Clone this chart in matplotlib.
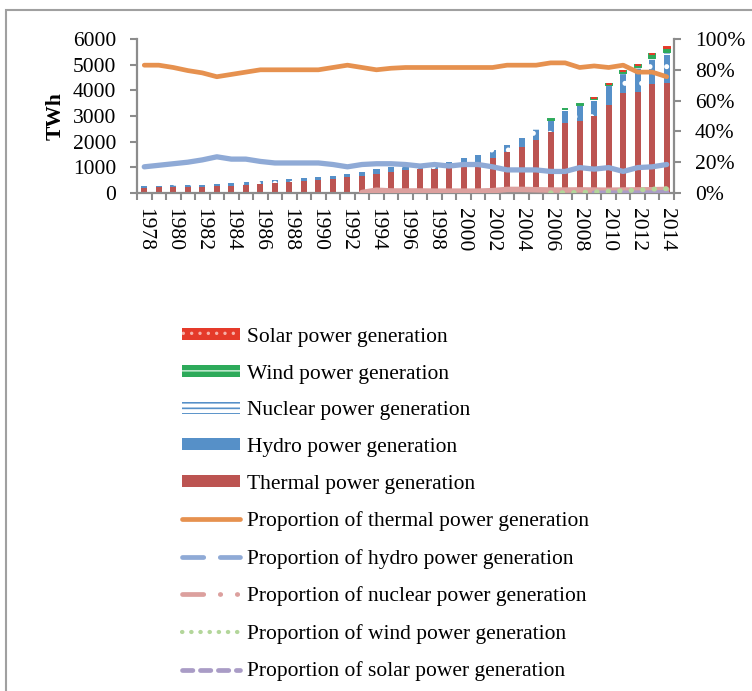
import numpy as np
import matplotlib
matplotlib.use("Agg")
import matplotlib.pyplot as plt
from matplotlib.patches import Patch, Rectangle
from matplotlib.lines import Line2D

plt.rcParams['font.family'] = ['Liberation Serif', 'DejaVu Serif']
plt.rcParams['hatch.linewidth'] = 1.2

# data (TWh)
years = list(range(1978, 2015))
thermal = [209, 232, 242, 244, 253, 265, 290, 318, 355, 397, 437, 466, 495, 554, 622,
           680, 747, 807, 878, 924, 939, 1005, 1114, 1205, 1379, 1579, 1796, 2047, 2370,
           2723, 2790, 2983, 3417, 3900, 3926, 4247, 4305]
hydro = [45, 50, 58, 66, 74, 86, 87, 92, 95, 100, 109, 118, 127, 125, 131,
         152, 167, 187, 188, 195, 204, 197, 222, 277, 288, 284, 354, 397, 436,
         485, 585, 616, 722, 699, 872, 920, 1064]
nuclear = [0] * 15 + [2.5, 14, 12.8, 14.3, 14.4, 14.1, 14.9, 16.7, 17.5, 25.1, 43.3,
                      50.5, 53.1, 54.8, 62.1, 68.4, 70.1, 73.9, 87.2, 98.3, 111.5, 133.2]
wind = [0] * 28 + [3.7, 5.7, 13.1, 27.6, 44.6, 70.3, 96.0, 138.3, 156.3]
solar = [0] * 31 + [0.4, 0.7, 2.6, 3.6, 8.4, 23.5]

# shares (%), right axis
thermal_pct = [83, 83, 81.5, 79.5, 78, 75.5, 77, 78.5, 80, 80, 80, 80, 80, 81.5, 83,
               81.5, 80, 81, 81.5, 81.5, 81.5, 81.5, 81.5, 81.5, 81.5, 83, 83, 83, 84.5,
               84.5, 81.5, 82.5, 81.5, 83, 78.5, 78.5, 75.5]
hydro_pct = [17, 18, 19, 20, 21.5, 23.5, 22, 22, 20.5, 19.5, 19.5, 19.5, 19.5, 18.5, 17,
             18.5, 19, 19, 18.5, 17.5, 18.5, 17.5, 18.5, 18.5, 17, 15, 15, 15, 14,
             14, 16.5, 15.5, 16.5, 14, 16.5, 17, 18.5]
nuclear_pct = [None] * 15 + [0.3, 1.8, 1.3, 1.3, 1.3, 1.2, 1.2, 1.2, 1.2, 1.5, 2.3,
                             2.3, 2.1, 1.9, 1.9, 2.0, 1.9, 1.8, 1.9, 2.0, 2.1, 2.3]
wind_pct = [None] * 28 + [0.1, 0.2, 0.4, 0.7, 1.1, 1.5, 1.9, 2.5, 2.8]
solar_pct = [None] * 31 + [0.0, 0.02, 0.05, 0.07, 0.15, 0.4]

c_thermal = '#BC5451'
c_hydro = '#5690C8'
c_nuclear = '#5690C8'
c_wind = '#2DAA5A'
c_solar = '#E53A2A'
l_thermal = '#E6914F'
l_hydro = '#8FAAD6'
l_nuclear = '#DCA09E'
l_wind = '#B3D69A'
l_solar = '#A99CC6'
grey = '#8c8c8c'

fig = plt.figure(figsize=(7.52, 6.91), dpi=100)
ax = fig.add_axes([137 / 752, 1 - 193 / 691, 537 / 752, 154 / 691])

x = np.arange(len(years))
w = 0.42
b1 = np.array(thermal, float)
b2 = b1 + np.array(hydro, float)
b3 = b2 + np.array(nuclear, float)
b4 = b3 + np.array(wind, float)
ax.bar(x, thermal, w, color=c_thermal, lw=0)
ax.bar(x, hydro, w, bottom=b1, color=c_hydro, edgecolor='white', hatch='.', lw=0)
ax.bar(x, nuclear, w, bottom=b2, color='white', edgecolor=c_nuclear, hatch='---', lw=0)
ax.bar(x, wind, w, bottom=b3, color=c_wind, edgecolor=c_wind,
       lw=[1.4 if v > 0 else 0 for v in wind])
ax.bar(x, solar, w, bottom=b4, color=c_solar, edgecolor=c_solar,
       lw=[1.4 if v > 0 else 0 for v in solar])

ax.set_xlim(-0.5, len(years) - 0.5)
ax.set_ylim(0, 6000)
ax.set_yticks(range(0, 6001, 1000))
ax.set_xticks(x[::2])
ax.set_xticklabels([str(y) for y in years[::2]], rotation=-90)
ax.set_xticks(np.arange(-0.5, len(years), 1), minor=True)
ax.tick_params(axis='x', which='major', length=0, pad=11, labelsize=15.5)
ax.tick_params(axis='x', which='minor', length=5, width=1.5, color=grey)
ax.tick_params(axis='y', length=5, width=1.5, color=grey, labelsize=15.5, pad=10)
for s in ['top', 'right']:
    ax.spines[s].set_visible(False)
for s in ['left', 'bottom']:
    ax.spines[s].set_color(grey)
    ax.spines[s].set_linewidth(1.6)

ax2 = ax.twinx()
ax2.set_ylim(0, 100)
ax2.set_yticks(range(0, 101, 20))
ax2.set_yticklabels([f'{v}%' for v in range(0, 101, 20)])
ax2.tick_params(axis='y', length=5, width=1.5, color=grey, labelsize=15.5, pad=10)
for s in ['top', 'left', 'bottom']:
    ax2.spines[s].set_visible(False)
ax2.spines['right'].set_color(grey)
ax2.spines['right'].set_linewidth(1.6)

def arr(v):
    return np.array([np.nan if a is None else a for a in v], float)

ax2.plot(x, arr(nuclear_pct), color=l_nuclear, lw=4.0, solid_capstyle='round')
ax2.plot(x, arr(solar_pct), color=l_solar, lw=3.6, solid_capstyle='round')
ax2.plot(x, arr(wind_pct), color=l_wind, lw=3.6, ls=(0, (0.1, 2.2)),
         dash_capstyle='round')
ax2.plot(x, arr(hydro_pct), color=l_hydro, lw=3.8, solid_capstyle='round')
ax2.plot(x, arr(thermal_pct), color=l_thermal, lw=3.4, solid_capstyle='round')

fig.text(56 / 752, 1 - 116 / 691, 'TWh', rotation=90, ha='center', va='center',
         fontsize=15.5, fontweight='bold')

handles = [
    Patch(facecolor=c_solar, edgecolor='#F6B0A8', hatch='..', lw=0),
    Patch(facecolor=c_wind, edgecolor='#B8E6C8', hatch='--', lw=0),
    Patch(facecolor='white', edgecolor=c_nuclear, hatch='---', lw=0),
    Patch(facecolor=c_hydro, lw=0),
    Patch(facecolor=c_thermal, lw=0),
    Line2D([], [], color=l_thermal, lw=3.4, solid_capstyle='round'),
    Line2D([], [], color=l_hydro, lw=3.4, ls=(0, (4.5, 3.5)), dash_capstyle='round'),
    Line2D([], [], color=l_nuclear, lw=3.4, ls=(0, (4.5, 3.5, 0.1, 3.5, 0.1, 3.5)),
           dash_capstyle='round'),
    Line2D([], [], color=l_wind, lw=3.0, ls=(0, (0.1, 2.1)), dash_capstyle='round'),
    Line2D([], [], color=l_solar, lw=3.4, ls=(0, (2.2, 1.6)), dash_capstyle='round'),
]
labels = [
    'Solar power generation',
    'Wind power generation',
    'Nuclear power generation',
    'Hydro power generation',
    'Thermal power generation',
    'Proportion of thermal power generation',
    'Proportion of hydro power generation',
    'Proportion of nuclear power generation',
    'Proportion of wind power generation',
    'Proportion of solar power generation',
]
fig.legend(handles, labels, loc='upper left', bbox_to_anchor=(182 / 752, 1 - 328 / 691),
           frameon=False, fontsize=15.5, handlelength=2.7, handleheight=0.5,
           handletextpad=0.3, labelspacing=0.82, borderpad=0, borderaxespad=0)

fig.add_artist(Rectangle((6 / 752, -0.05), 1.2, 1 - 10 / 691 + 0.05,
                         transform=fig.transFigure, fill=False, edgecolor='#a0a0a0',
                         lw=1.5))

fig.savefig('out.png', dpi=100)
